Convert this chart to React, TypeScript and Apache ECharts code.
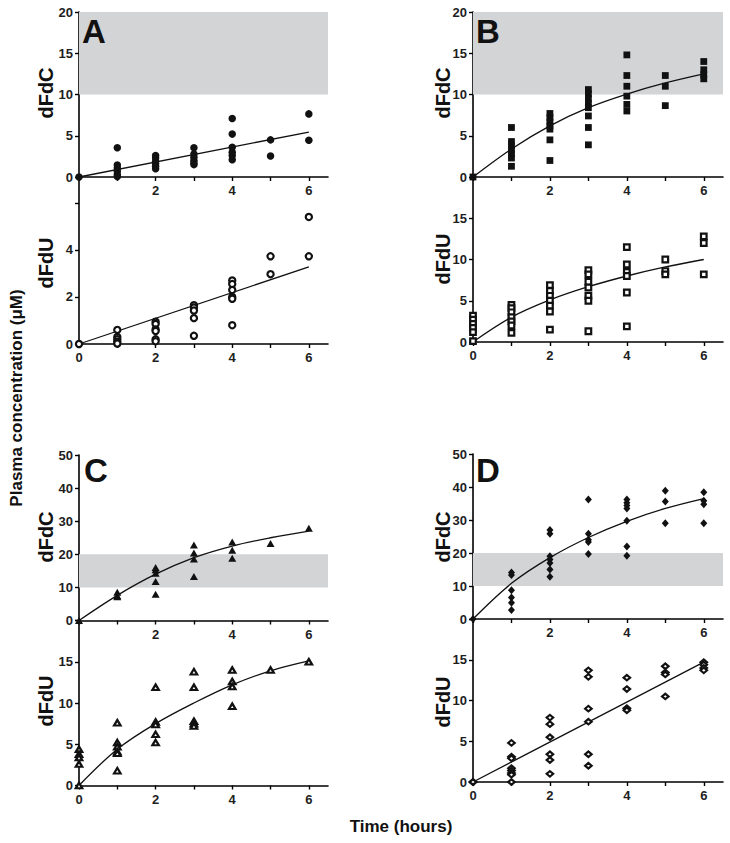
import React, { useEffect, useRef } from 'react';
import * as echarts from 'echarts';

// ---------- data ----------
const HOURS = [0, 1, 2, 3, 4, 5, 6];
const X_TICKS = [0, 1, 2, 3, 4, 5, 6];
const X_LABELS_TOP = [2, 4, 6];
const X_LABELS_BOTTOM = [0, 2, 4, 6];
const Y_TICKS_20 = [0, 5, 10, 15, 20];
const Y_LABELS_20_BOTTOM = [0, 5, 10, 15];
const Y_TICKS_50 = [0, 10, 20, 30, 40, 50];
const Y_TICKS_A_DFDU = [0, 2, 4, 6];
const Y_LABELS_A_DFDU = [0, 2, 4];
const BAND = [10, 20];

const FIT_T = [0, 1, 2, 3, 4, 5, 6];
const FIT_T_LINEAR = [0, 6];

// values grouped by hour (index = HOURS)
const A_DFDC = [
  [0],
  [3.55, 1.45, 1.1, 0.7, 0.3, 0.05],
  [2.6, 2.3, 1.9, 1.6, 1.3, 1.0],
  [3.55, 2.8, 2.4, 2.0, 1.7, 1.5],
  [7.1, 5.2, 3.6, 3.0, 2.6, 2.1],
  [4.5, 2.55],
  [7.65, 4.45],
];
const A_DFDU = [
  [0],
  [0.6, 0.3, 0.2, 0.1, 0.02],
  [0.95, 0.85, 0.62, 0.55, 0.2, 0.12],
  [1.65, 1.55, 1.42, 1.1, 0.35],
  [2.7, 2.55, 2.3, 2.0, 1.92, 0.8],
  [3.73, 2.97],
  [5.4, 3.73],
];
const B_DFDC = [
  [0],
  [6.0, 4.3, 3.8, 3.3, 2.8, 2.3, 1.3],
  [7.7, 7.2, 6.7, 6.2, 5.8, 4.5, 2.0],
  [10.6, 10.1, 9.5, 8.9, 8.4, 7.4, 6.0, 3.9],
  [14.8, 12.3, 11.0, 9.8, 8.8, 8.0],
  [12.3, 11.0, 8.65],
  [14.0, 13.0, 12.4, 11.9],
];
const B_DFDU = [
  [3.2, 2.7, 2.2, 1.7, 1.2, 0.1],
  [4.5, 4.1, 3.6, 3.0, 2.5, 2.0, 1.1],
  [6.9, 6.2, 5.6, 5.0, 4.4, 3.7, 1.5],
  [8.7, 8.2, 7.3, 6.6, 5.6, 5.0, 1.3],
  [11.5, 9.4, 8.5, 8.0, 6.0, 1.9],
  [10.0, 8.6, 8.2],
  [12.8, 12.0, 8.2],
];
const C_DFDC = [
  [0],
  [8.5, 7.5, 7.2],
  [16.0, 15.3, 14.3, 11.8, 7.9],
  [22.8, 20.4, 18.6, 13.3],
  [23.7, 21.2, 18.8],
  [23.3],
  [27.9],
];
const C_DFDU = [
  [4.4, 3.8, 3.4, 2.6, 0],
  [7.6, 5.2, 4.7, 4.1, 3.9, 1.8],
  [11.9, 7.7, 7.4, 6.2, 5.2],
  [13.8, 11.9, 7.8, 7.5, 7.2],
  [14.0, 12.6, 12.0, 9.6],
  [14.0],
  [15.0],
];
const D_DFDC = [
  [0],
  [14.1, 13.3, 8.7, 6.5, 4.9, 2.7],
  [27.0, 25.8, 19.0, 18.0, 17.0, 15.0, 12.8],
  [36.2, 25.8, 24.0, 23.3, 19.7],
  [36.2, 35.2, 34.4, 33.5, 29.8, 22.0, 19.2],
  [38.9, 35.6, 29.0],
  [38.4, 35.8, 34.8, 29.0],
];
const D_DFDU = [
  [0, 0],
  [4.8, 3.1, 2.9, 1.7, 1.4, 1.1, 0.9, 0],
  [7.9, 7.1, 5.5, 3.4, 2.7, 1.0],
  [13.7, 12.9, 9.0, 7.4, 3.4, 2.0],
  [12.8, 11.4, 9.05, 8.8],
  [14.2, 13.45, 13.2, 10.5],
  [14.7, 14.4, 14.0, 13.7],
];

// fitted curves
const A_DFDC_FIT = [0, 5.45];
const A_DFDU_FIT = [0, 3.28];
const B_DFDC_FIT = [0, 3.4, 6.2, 8.4, 10.05, 11.4, 12.5];
const B_DFDU_FIT = [0, 3.0, 5.1, 6.7, 8.0, 9.1, 10.0];
const C_DFDC_FIT = [0, 7.6, 14.0, 19.0, 22.5, 25.0, 27.0];
const C_DFDU_FIT = [0, 4.4, 7.5, 10.0, 12.2, 13.9, 15.1];
const D_DFDC_FIT = [0, 10.8, 18.6, 24.7, 29.6, 33.5, 36.5];
const D_DFDU_FIT = [0, 14.7];

// ---------- layout / style ----------
const FONT = "'Liberation Sans', Arial, Helvetica, sans-serif";
const INK = '#1e1e1e';
const BAND_COLOR = '#d3d4d6';

const GRIDS = [
  { left: 79, top: 12, width: 249, height: 165 },
  { left: 79, top: 177, width: 249, height: 167 },
  { left: 473, top: 12, width: 250, height: 165 },
  { left: 473, top: 177, width: 250, height: 165 },
  { left: 79, top: 455, width: 249, height: 165.5 },
  { left: 79, top: 620.5, width: 249, height: 165 },
  { left: 473, top: 454, width: 250, height: 165 },
  { left: 473, top: 619, width: 250, height: 163 },
];

type Panel = {
  data: number[][];
  fitT: number[];
  fit: number[];
  symbol: string;
  size: number | number[];
  open: boolean;
  yMax: number;
  yTicks: number[];
  yLabels: number[];
  band: boolean;
  xLabels: number[];
};

const PANELS: Panel[] = [
  { data: A_DFDC, fitT: FIT_T_LINEAR, fit: A_DFDC_FIT, symbol: 'circle', size: 7.5, open: false, yMax: 20, yTicks: Y_TICKS_20, yLabels: Y_TICKS_20, band: true, xLabels: X_LABELS_TOP },
  { data: A_DFDU, fitT: FIT_T_LINEAR, fit: A_DFDU_FIT, symbol: 'circle', size: 6.2, open: true, yMax: 7.1, yTicks: Y_TICKS_A_DFDU, yLabels: Y_LABELS_A_DFDU, band: false, xLabels: X_LABELS_BOTTOM },
  { data: B_DFDC, fitT: FIT_T, fit: B_DFDC_FIT, symbol: 'rect', size: 6.8, open: false, yMax: 20, yTicks: Y_TICKS_20, yLabels: Y_TICKS_20, band: true, xLabels: X_LABELS_TOP },
  { data: B_DFDU, fitT: FIT_T, fit: B_DFDU_FIT, symbol: 'rect', size: 5.6, open: true, yMax: 20, yTicks: Y_TICKS_20, yLabels: Y_LABELS_20_BOTTOM, band: false, xLabels: X_LABELS_BOTTOM },
  { data: C_DFDC, fitT: FIT_T, fit: C_DFDC_FIT, symbol: 'triangle', size: [8, 7], open: false, yMax: 50, yTicks: Y_TICKS_50, yLabels: Y_TICKS_50, band: true, xLabels: X_LABELS_TOP },
  { data: C_DFDU, fitT: FIT_T, fit: C_DFDU_FIT, symbol: 'triangle', size: [6.5, 5.5], open: true, yMax: 20, yTicks: Y_TICKS_20, yLabels: Y_LABELS_20_BOTTOM, band: false, xLabels: X_LABELS_BOTTOM },
  { data: D_DFDC, fitT: FIT_T, fit: D_DFDC_FIT, symbol: 'diamond', size: [7, 8], open: false, yMax: 50, yTicks: Y_TICKS_50, yLabels: Y_TICKS_50, band: true, xLabels: X_LABELS_TOP },
  { data: D_DFDU, fitT: FIT_T_LINEAR, fit: D_DFDU_FIT, symbol: 'diamond', size: [6.5, 5.5], open: true, yMax: 20, yTicks: Y_TICKS_20, yLabels: Y_LABELS_20_BOTTOM, band: false, xLabels: X_LABELS_BOTTOM },
];

const LETTERS = [
  { text: 'A', x: 82, y: 31.5 },
  { text: 'B', x: 476, y: 31.5 },
  { text: 'C', x: 84, y: 470.5 },
  { text: 'D', x: 476, y: 470 },
];
const SIDE_LABELS = [
  { text: 'dFdC', x: 46, y: 93 },
  { text: 'dFdU', x: 46, y: 263 },
  { text: 'dFdC', x: 443, y: 93 },
  { text: 'dFdU', x: 443, y: 259 },
  { text: 'dFdC', x: 46, y: 537 },
  { text: 'dFdU', x: 46, y: 701 },
  { text: 'dFdC', x: 443, y: 537 },
  { text: 'dFdU', x: 443, y: 702 },
];

function toPoints(groups: number[][]): number[][] {
  return groups.flatMap((vals, i) => vals.map((v) => [HOURS[i], v]));
}

function buildOption(): any {
  const axisLine = { show: true, onZero: false, lineStyle: { color: '#000', width: 1.6 } };
  const axisTickBase = { show: true, inside: false, length: 4, lineStyle: { color: '#000', width: 1.4 } };
  const labelBase = { show: true, color: INK, fontWeight: 'bold', fontSize: 13, fontFamily: FONT };

  const grid = GRIDS.map((g) => ({ ...g, containLabel: false, outerBoundsMode: 'none' }));

  const xAxis = PANELS.map((p, i) => ({
    type: 'value',
    gridIndex: i,
    min: 0,
    max: 6.5,
    axisLine,
    axisTick: { ...axisTickBase, customValues: X_TICKS },
    axisLabel: { ...labelBase, margin: 7, customValues: p.xLabels },
    splitLine: { show: false },
  }));

  const yAxis = PANELS.map((p, i) => ({
    type: 'value',
    gridIndex: i,
    min: 0,
    max: p.yMax,
    axisLine,
    axisTick: { ...axisTickBase, customValues: p.yTicks },
    axisLabel: { ...labelBase, margin: 6, customValues: p.yLabels },
    splitLine: { show: false },
  }));

  const series: any[] = [];
  PANELS.forEach((p, i) => {
    if (p.band) {
      series.push({
        type: 'line',
        xAxisIndex: i,
        yAxisIndex: i,
        data: [],
        z: 1,
        silent: true,
        markArea: {
          silent: true,
          itemStyle: { color: BAND_COLOR },
          data: [[{ yAxis: BAND[0] }, { yAxis: BAND[1] }]],
        },
      });
    }
    series.push({
      type: 'line',
      xAxisIndex: i,
      yAxisIndex: i,
      data: p.fitT.map((t, k) => [t, p.fit[k]]),
      smooth: p.fitT.length > 2 ? 0.35 : false,
      showSymbol: false,
      symbol: 'none',
      silent: true,
      z: 3,
      lineStyle: { color: '#111', width: 1.3 },
    });
    series.push({
      type: 'scatter',
      xAxisIndex: i,
      yAxisIndex: i,
      data: toPoints(p.data),
      symbol: p.symbol,
      symbolSize: p.size,
      clip: false,
      silent: true,
      z: 4,
      itemStyle: p.open
        ? { color: '#fff', borderColor: '#111', borderWidth: 2.2, opacity: 1 }
        : { color: '#111', borderWidth: 0, opacity: 1 },
    });
  });

  const graphic: any[] = [];
  LETTERS.forEach((l) => {
    graphic.push({
      type: 'text',
      x: l.x,
      y: l.y,
      z: 10,
      style: { text: l.text, fill: '#111', font: `bold 33px ${FONT}`, textAlign: 'left', textVerticalAlign: 'middle', verticalAlign: 'middle' },
    });
  });
  SIDE_LABELS.forEach((l) => {
    graphic.push({
      type: 'text',
      x: l.x,
      y: l.y,
      rotation: Math.PI / 2,
      z: 10,
      style: { text: l.text, fill: '#111', font: `bold 20px ${FONT}`, textAlign: 'center', align: 'center', textVerticalAlign: 'middle', verticalAlign: 'middle' },
    });
  });
  graphic.push({
    type: 'text',
    x: 16,
    y: 398,
    rotation: Math.PI / 2,
    z: 10,
    style: { text: 'Plasma concentration (μM)', fill: '#111', font: `bold 17px ${FONT}`, textAlign: 'center', align: 'center', textVerticalAlign: 'middle', verticalAlign: 'middle' },
  });
  graphic.push({
    type: 'text',
    x: 401,
    y: 826,
    z: 10,
    style: { text: 'Time (hours)', fill: '#111', font: `bold 17px ${FONT}`, textAlign: 'center', align: 'center', textVerticalAlign: 'middle', verticalAlign: 'middle' },
  });

  return {
    animation: false,
    backgroundColor: '#fff',
    textStyle: { fontFamily: FONT },
    grid,
    xAxis,
    yAxis,
    series,
    graphic,
  };
}

export default function App() {
  const ref = useRef<HTMLDivElement>(null);
  useEffect(() => {
    if (!ref.current) return;
    const chart = echarts.init(ref.current, undefined, { renderer: 'svg' });
    chart.setOption(buildOption());
    return () => chart.dispose();
  }, []);
  return (
    <div
      ref={ref}
      style={{ position: 'fixed', left: 0, top: 0, width: 730, height: 843, background: '#fff' }}
    />
  );
}
